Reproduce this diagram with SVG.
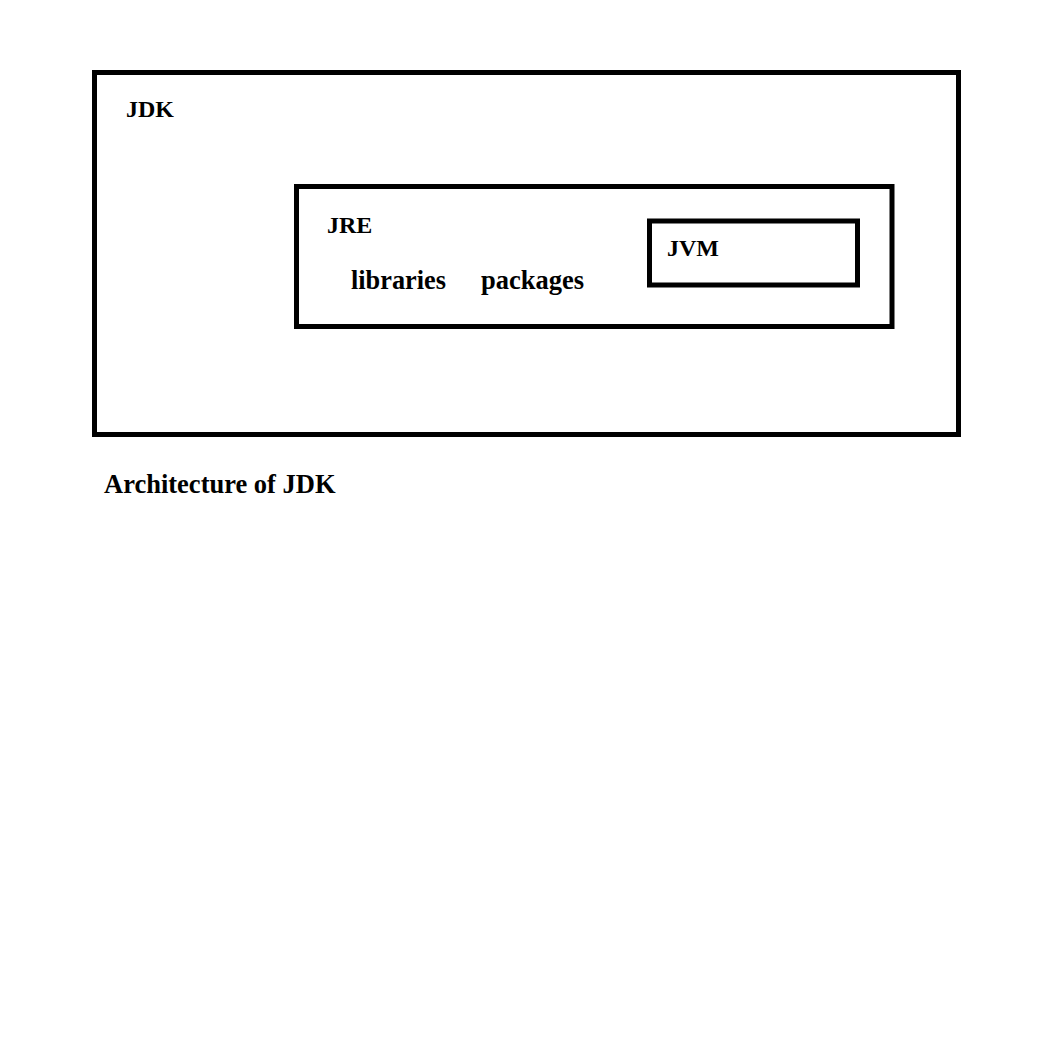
<svg xmlns="http://www.w3.org/2000/svg" width="1040" height="1040" viewBox="0 0 1040 1040">
<style>
.box{fill:none;stroke:#000;stroke-width:5}
.t{font-family:"Liberation Serif","Times New Roman",serif;font-weight:bold;fill:#000}
</style>
<rect width="1040" height="1040" fill="#fff"/>
<g id="jdk">
<rect class="box" x="94.5" y="72.5" width="864" height="362"/>
<text class="t" x="126" y="117" font-size="24">JDK</text>
</g>
<g id="jre">
<rect class="box" x="296.5" y="186.5" width="595.5" height="140"/>
<text class="t" x="327" y="233" font-size="24">JRE</text>
<text class="t" x="351" y="289" font-size="26.3">libraries</text>
<text class="t" x="481" y="289" font-size="26.5">packages</text>
</g>
<g id="jvm">
<rect class="box" x="649.5" y="221" width="208" height="64"/>
<text class="t" x="667" y="256" font-size="24">JVM</text>
</g>
<g id="connectors"></g>
<text class="t" x="104" y="493" font-size="26.5">Architecture of JDK</text>
</svg>
